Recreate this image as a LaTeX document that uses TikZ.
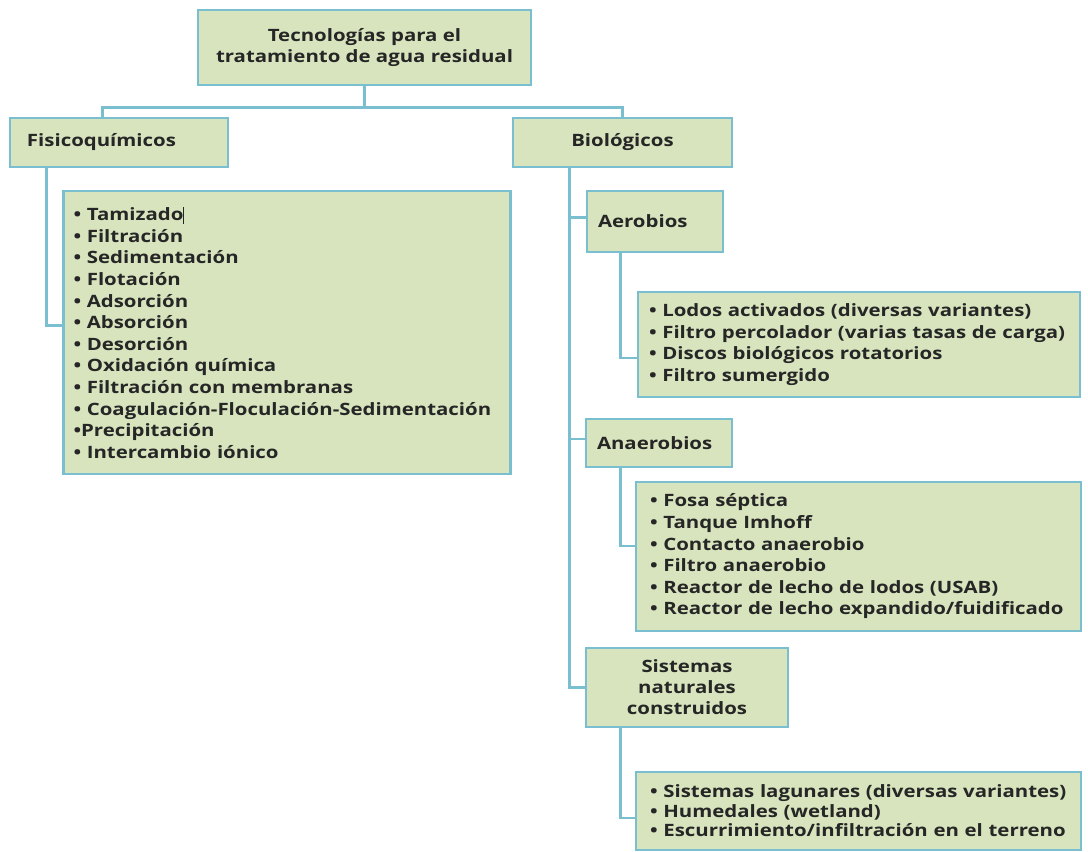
\documentclass[tikz,border=0pt]{standalone}
\usepackage{fontspec}
\setmainfont{Open Sans}[FakeStretch=1.2]
\definecolor{boxgreen}{HTML}{D7E4BD}
\definecolor{lineblue}{HTML}{79BFD0}
\definecolor{txt}{HTML}{262626}
\tikzset{
  x=1pt,y=-1pt,
  box/.style={draw=lineblue, fill=boxgreen, line width=2.6pt, text=txt,
    font=\fontsize{17}{21.6}\selectfont\bfseries, inner xsep=11pt, inner ysep=0pt},
  conn/.style={draw=lineblue, line width=2.6pt}
}
\begin{document}
\begin{tikzpicture}
\useasboundingbox (0,0) rectangle (1088,852);
% boxes
\node[box, minimum width=333pt, minimum height=75pt, align=center] (top) at (364.5,47.5)
  {Tecnologías para el\\tratamiento de agua residual};
\node[box, text width=184pt, minimum height=49pt, align=left, inner xsep=17pt] (fis) at (119,142.5) {Fisicoquímicos};
\node[box, minimum width=219pt, minimum height=49pt, align=center] (bio) at (622.5,142.5) {Biológicos};
\node[box, text width=427pt, minimum height=283pt, align=left, inner xsep=10pt] (fislist) at (287,332.5)
  {• Tamizado\rule[-3pt]{0.9pt}{17pt}\\
   • Filtración\\
   • Sedimentación\\
   • Flotación\\
   • Adsorción\\
   • Absorción\\
   • Desorción\\
   • Oxidación química\\
   • Filtración con membranas\\
   • Coagulación-Floculación-Sedimentación\\
   •Precipitación\\
   • Intercambio iónico};
\node[box, text width=114pt, minimum height=61pt, align=left] (aer) at (655,221.5) {Aerobios};
\node[box, text width=420pt, minimum height=105pt, align=left] (aerlist) at (859,344.5)
  {• Lodos activados (diversas variantes)\\
   • Filtro percolador (varias tasas de carga)\\
   • Discos biológicos rotatorios\\
   • Filtro sumergido};
\node[box, text width=124pt, minimum height=48pt, align=left] (ana) at (659,443) {Anaerobios};
\node[box, text width=417pt, minimum height=149pt, align=left, inner xsep=14pt] (analist) at (858.5,556.5)
  {• Fosa séptica\\
   • Tanque Imhoff\\
   • Contacto anaerobio\\
   • Filtro anaerobio\\
   • Reactor de lecho de lodos (USAB)\\
   • Reactor de lecho expandido/fuidificado};
\node[box, minimum width=202pt, minimum height=79pt, align=center,
  font=\fontsize{17}{21}\selectfont\bfseries] (sis) at (687,687.5)
  {Sistemas\\naturales\\construidos};
\node[box, text width=417pt, minimum height=78pt, align=left, inner xsep=14pt,
  font=\fontsize{17}{19.6}\selectfont\bfseries] (sislist) at (858.5,811)
  {• Sistemas lagunares (diversas variantes)\\
   • Humedales (wetland)\\
   • Escurrimiento/infiltración en el terreno};
% connectors
\draw[conn] (top.south) -- ++(0,21) coordinate (j);
\draw[conn] ([xshift=94pt]fis.north west) |- (j) -| (bio.north);
\draw[conn] ([xshift=38pt]fis.south west) |- ([yshift=7pt]fislist.west);
\draw[conn] ([xshift=58pt]bio.south west) |- (sis.west);
\draw[conn] ([xshift=58pt]bio.south west) |- ([yshift=4pt]aer.west);
\draw[conn] ([xshift=58pt]bio.south west) |- ([yshift=4pt]ana.west);
\draw[conn] ([xshift=35pt]aer.south west) |- ([yshift=-13.5pt]aerlist.west);
\draw[conn] ([xshift=36pt]ana.south west) |- ([yshift=10.5pt]analist.west);
\draw[conn] ([xshift=36pt]sis.south west) |- ([yshift=-7pt]sislist.west);
\end{tikzpicture}
\end{document}
